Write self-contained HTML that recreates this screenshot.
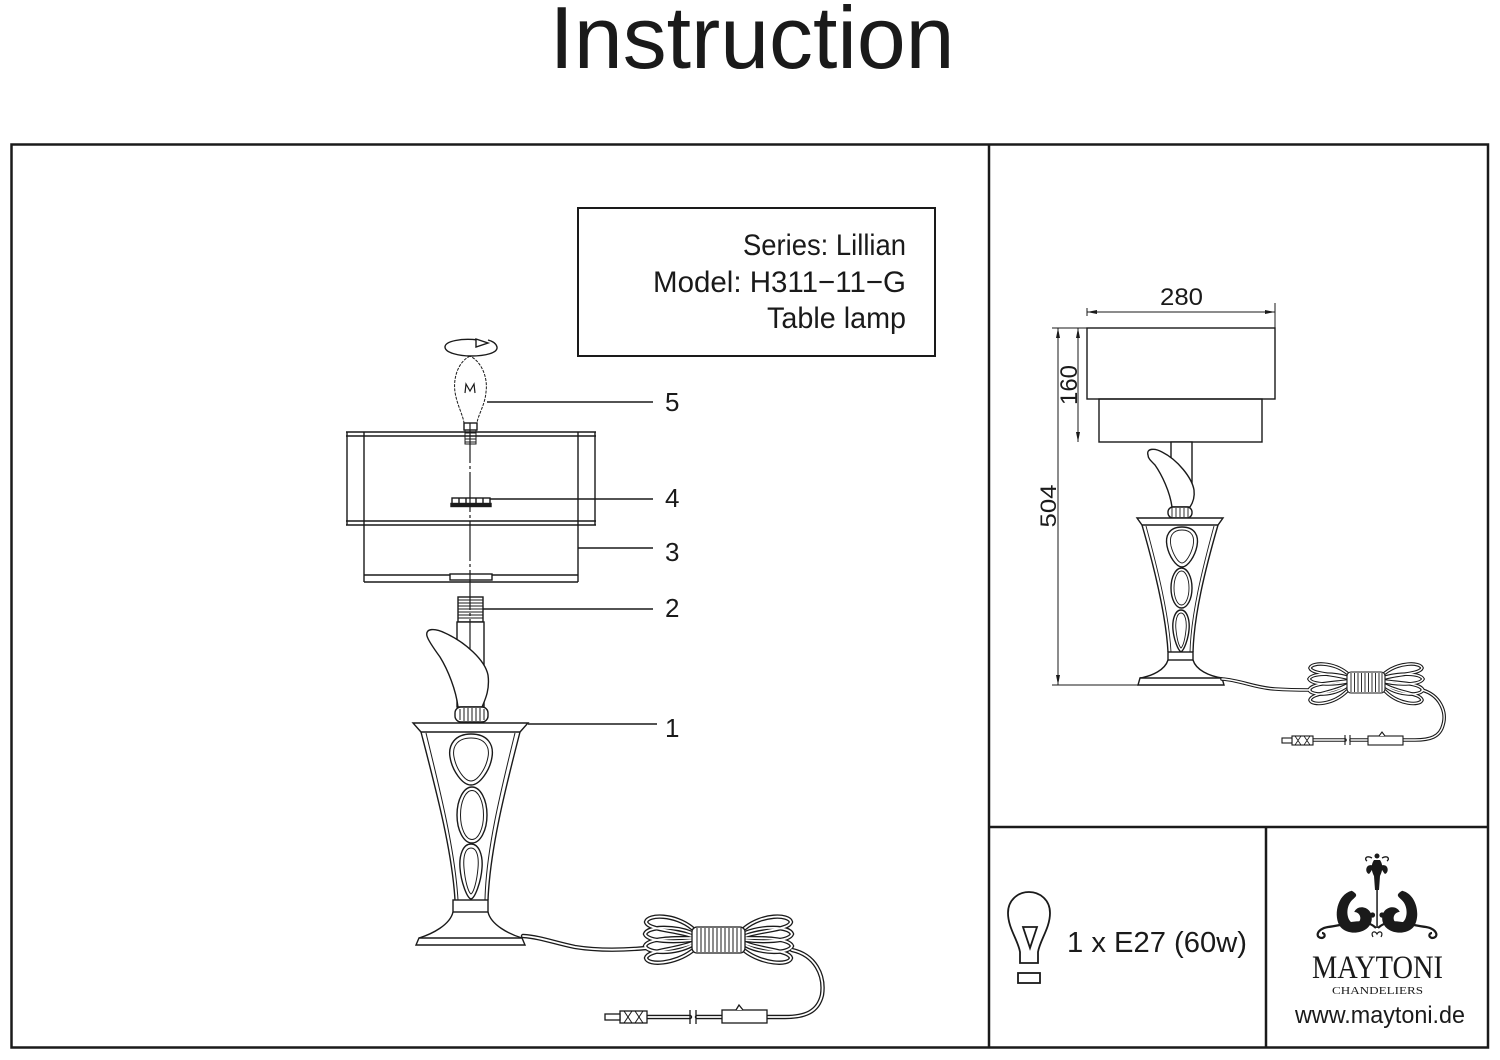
<!DOCTYPE html>
<html><head><meta charset="utf-8"><style>
html,body{margin:0;padding:0;background:#fff;}
svg{display:block;}
text{font-family:"Liberation Sans",Arial,sans-serif;fill:#1a1a1a;}
</style></head><body>
<svg width="1500" height="1060" viewBox="0 0 1500 1060" xmlns="http://www.w3.org/2000/svg">
<rect width="1500" height="1060" fill="#fff"/>
<text x="752" y="68" font-size="88" text-anchor="middle" textLength="405" lengthAdjust="spacingAndGlyphs">Instruction</text>

<!-- frame -->
<g stroke="#1a1a1a" stroke-width="2.5" fill="none">
<rect x="11.5" y="144.5" width="1476.5" height="903"/>
<line x1="989" y1="144" x2="989" y2="1048"/>
<line x1="989" y1="827" x2="1488" y2="827"/>
<line x1="1266" y1="827" x2="1266" y2="1048"/>
</g>

<!-- info box -->
<rect x="578" y="208" width="357" height="148" fill="none" stroke="#1a1a1a" stroke-width="2"/>
<text x="906" y="255" font-size="30" text-anchor="end" textLength="163" lengthAdjust="spacingAndGlyphs">Series: Lillian</text>
<text x="906" y="292" font-size="30" text-anchor="end" textLength="253" lengthAdjust="spacingAndGlyphs">Model: H311−11−G</text>
<text x="906" y="328" font-size="30" text-anchor="end" textLength="139" lengthAdjust="spacingAndGlyphs">Table lamp</text>

<!-- ===== MAIN EXPLODED LAMP ===== -->
<g stroke="#1a1a1a" fill="none" stroke-width="1.4">
<path d="M478,340 C 462,338 445,341 445,347 C 445,353 460,356 471,356 C 485,356 498,353 497,347 C 496,343 492,341 488,340"/>
<polygon points="476,339 488,343 476,347" fill="#fff"/>
<path d="M470,356 C 458,362 453,378 455,392 C 457,405 463,415 464,423 L 477,423 C 478,415 485,405 486,392 C 488,378 482,362 470,356 Z" stroke-width="1" stroke-dasharray="3 1.2"/>
<polyline points="465,393 466,384 470,391 474,384 475,393" stroke-width="1.2"/>
<rect x="464" y="423" width="13" height="7" fill="#fff"/>
<path d="M465,430 L465,444 L476,444 L476,430 M465,433 L476,433 M465,436 L476,436 M465,439 L476,439 M465,442 L476,442" stroke-width="1"/>

<line x1="346" y1="432" x2="596" y2="432"/>
<line x1="346" y1="436" x2="596" y2="436"/>
<line x1="346" y1="521" x2="596" y2="521"/>
<line x1="346" y1="525" x2="596" y2="525"/>
<line x1="347" y1="432" x2="347" y2="525"/>
<line x1="595" y1="432" x2="595" y2="525"/>
<line x1="364" y1="432" x2="364" y2="582"/>
<line x1="578" y1="432" x2="578" y2="582"/>
<line x1="364" y1="575" x2="578" y2="575"/>
<line x1="364" y1="582" x2="578" y2="582"/>
<rect x="450" y="574" width="42" height="6" fill="#fff"/>
<rect x="452" y="498" width="38" height="6" fill="#fff"/>
<line x1="459" y1="498" x2="459" y2="504"/><line x1="466" y1="498" x2="466" y2="504"/><line x1="476" y1="498" x2="476" y2="504"/><line x1="483" y1="498" x2="483" y2="504"/>
<rect x="451" y="503.5" width="40" height="3" fill="#1a1a1a"/>

<rect x="458" y="597" width="25" height="25" fill="#fff"/>
<path d="M458,600 L483,600 M458,603 L483,603 M458,606 L483,606 M458,609 L483,609 M458,612 L483,612 M458,615 L483,615 M458,618 L483,618" stroke-width="1"/>
<rect x="457" y="622" width="27" height="85" fill="#fff"/>

<line x1="470" y1="423" x2="470" y2="688" stroke-width="1.2" stroke-dasharray="40 3 3 3"/>

<path d="M427,636 C 425,628 435,628 445,633 C 465,642 485,660 488,675 C 490,690 485,700 482,707 L 458,707 C 456,690 448,670 440,657 C 432,646 428,640 427,636 Z" fill="#fff"/>
<rect x="455" y="707" width="33" height="15" rx="6" fill="#fff"/>
<path d="M460,709 L460,720 M464,708 L464,721 M468,708 L468,721 M472,708 L472,721 M476,708 L476,721 M480,708 L480,721 M484,709 L484,720" stroke-width="1"/>
<polygon points="413,723 528,723 520,732 421,732" fill="#fff"/>
<path d="M421,732 C 436,790 452,850 455,900"/>
<path d="M426,733 C 440,790 455,850 458,900" stroke-width="1"/>
<path d="M520,732 C 505,790 490,850 488,900"/>
<path d="M515,733 C 501,790 486,850 485,900" stroke-width="1"/>
<path d="M471,734 C 488,734 494,745 492,757 C 490,770 480,785 471,785 C 462,785 452,770 450,757 C 448,745 455,734 471,734 Z"/>
<path d="M471,738 C 485,738 490,747 488,757 C 486,768 478,781 471,781 C 464,781 456,768 454,757 C 452,747 457,738 471,738 Z" stroke-width="1"/>
<ellipse cx="472" cy="815" rx="15" ry="28"/>
<ellipse cx="472" cy="815" rx="11.5" ry="24.5" stroke-width="1"/>
<path d="M471,844 C 479,844 483,855 482,868 C 481,882 475,898 471,899 C 467,898 461,882 460,868 C 459,855 463,844 471,844 Z"/>
<path d="M471,848 C 477,848 479,857 478,868 C 477,880 474,892 471,894 C 468,892 465,880 464,868 C 463,857 465,848 471,848 Z" stroke-width="1"/>
<rect x="453" y="900" width="35" height="12" fill="#fff"/>
<path d="M453,912 C 450,925 432,934 419,938 M488,912 C 491,925 509,934 522,938"/>
<polygon points="419,938 522,938 525,945 416,945" fill="#fff"/>
</g>

<g stroke="#1a1a1a" stroke-width="1.6">
<line x1="487" y1="402" x2="653" y2="402"/>
<line x1="490" y1="499" x2="653" y2="499"/>
<line x1="578" y1="548" x2="653" y2="548"/>
<line x1="483" y1="609" x2="653" y2="609"/>
<line x1="528" y1="724" x2="657" y2="724"/>
</g>
<g font-size="26">
<text x="665" y="411">5</text>
<text x="665" y="507">4</text>
<text x="665" y="561">3</text>
<text x="665" y="617">2</text>
<text x="665" y="737">1</text>
</g>

<g fill="none" stroke-linecap="round">
<g stroke="#1a1a1a" stroke-width="4.4">
<path d="M523,936 C 540,937 555,943 575,947 C 600,951 625,950 646,948"/>
<path d="M692,928 C 675,914 648,914 646,922 C 648,930 675,930 692,936"/>
<path d="M692,933 C 675,926 648,926 645,934 C 648,942 675,942 692,940"/>
<path d="M692,938 C 675,938 648,938 645,946 C 648,954 675,954 692,945"/>
<path d="M692,943 C 675,950 648,950 646,958 C 648,966 675,964 692,951"/>
<path d="M745,928 C 762,914 789,914 791,922 C 789,930 762,930 745,936"/>
<path d="M745,933 C 762,926 789,926 792,934 C 789,942 762,942 745,940"/>
<path d="M745,938 C 762,938 789,938 792,946 C 789,954 762,954 745,945"/>
<path d="M745,943 C 762,950 789,950 791,958 C 789,966 762,964 745,951"/>
<path d="M792,950 C 815,955 825,975 822,995 C 818,1012 805,1017 785,1017 L 767,1017"/>
<path d="M722,1017 L 697,1017 M690,1017 L 647,1017"/>
</g>
<g stroke="#fff" stroke-width="1.8">
<path d="M523,936 C 540,937 555,943 575,947 C 600,951 625,950 646,948"/>
<path d="M692,928 C 675,914 648,914 646,922 C 648,930 675,930 692,936"/>
<path d="M692,933 C 675,926 648,926 645,934 C 648,942 675,942 692,940"/>
<path d="M692,938 C 675,938 648,938 645,946 C 648,954 675,954 692,945"/>
<path d="M692,943 C 675,950 648,950 646,958 C 648,966 675,964 692,951"/>
<path d="M745,928 C 762,914 789,914 791,922 C 789,930 762,930 745,936"/>
<path d="M745,933 C 762,926 789,926 792,934 C 789,942 762,942 745,940"/>
<path d="M745,938 C 762,938 789,938 792,946 C 789,954 762,954 745,945"/>
<path d="M745,943 C 762,950 789,950 791,958 C 789,966 762,964 745,951"/>
<path d="M792,950 C 815,955 825,975 822,995 C 818,1012 805,1017 785,1017 L 767,1017"/>
<path d="M722,1017 L 697,1017 M690,1017 L 647,1017"/>
</g>
</g>
<g stroke="#1a1a1a" stroke-width="1.3" fill="#fff">
<rect x="692" y="927" width="53" height="26" rx="5"/>
<path d="M697,928 V952 M701,928 V952 M705,928 V952 M709,928 V952 M713,928 V952 M717,928 V952 M721,928 V952 M725,928 V952 M729,928 V952 M733,928 V952 M737,928 V952 M741,928 V952" stroke-width="1" fill="none"/>
<rect x="722" y="1010" width="45" height="13"/>
<path d="M736,1010 L739,1005 L743,1010" fill="#fff"/>
<line x1="690" y1="1010" x2="690" y2="1024"/>
<line x1="696" y1="1010" x2="696" y2="1024"/>
<rect x="620" y="1011" width="27" height="12"/>
<path d="M624,1011 L632,1023 M632,1011 L624,1023 M635,1011 L643,1023 M643,1011 L635,1023" fill="none" stroke-width="1"/>
<rect x="605" y="1014" width="15" height="6"/>
</g>

<!-- ===== RIGHT DIMENSION DIAGRAM ===== -->
<g stroke="#1a1a1a" fill="none" stroke-width="1.4">
<rect x="1087" y="328" width="188" height="71"/>
<rect x="1099" y="399" width="163" height="43"/>
<rect x="1171" y="442" width="21" height="45" fill="#fff"/>
<path d="M1148,455 C 1146,448 1155,448 1162,452 C 1178,460 1192,478 1194,490 C 1195,498 1192,504 1190,507 L 1172,507 C 1170,492 1162,475 1155,465 C 1150,460 1148,458 1148,455 Z" fill="#fff"/>
<rect x="1168" y="507" width="24" height="11" rx="5" fill="#fff"/>
<path d="M1172,508 V517 M1176,508 V517 M1180,508 V517 M1184,508 V517 M1188,508 V517" stroke-width="0.9"/>
<polygon points="1137,518 1223,518 1218,525 1142,525" fill="#fff"/>
<path d="M1142,525 C 1155,570 1166,615 1168,652"/>
<path d="M1146,526 C 1158,570 1169,615 1171,652" stroke-width="0.9"/>
<path d="M1218,525 C 1205,570 1194,615 1193,652"/>
<path d="M1214,526 C 1202,570 1191,615 1190,652" stroke-width="0.9"/>
<path d="M1182,527 C 1195,527 1199,536 1197,546 C 1195,556 1188,567 1182,567 C 1176,567 1169,556 1167,546 C 1165,536 1169,527 1182,527 Z"/>
<path d="M1182,530 C 1192,530 1195,537 1193,546 C 1191,554 1186,563 1182,563 C 1178,563 1173,554 1171,546 C 1169,537 1172,530 1182,530 Z" stroke-width="0.9"/>
<ellipse cx="1181.5" cy="588" rx="10.5" ry="20"/>
<ellipse cx="1181.5" cy="588" rx="7.5" ry="17" stroke-width="0.9"/>
<path d="M1181,610 C 1187,610 1190,620 1189,630 C 1188,640 1184,650 1181,652 C 1178,650 1174,640 1173,630 C 1172,620 1175,610 1181,610 Z"/>
<path d="M1181,613 C 1185,613 1187,621 1186,630 C 1185,639 1183,646 1181,648 C 1179,646 1177,639 1176,630 C 1175,621 1177,613 1181,613 Z" stroke-width="0.9"/>
<rect x="1168" y="652" width="25" height="8" fill="#fff"/>
<path d="M1168,660 C 1165,670 1152,676 1140,678 M1193,660 C 1196,670 1209,676 1222,678"/>
<polygon points="1140,678 1222,678 1224,685 1138,685" fill="#fff"/>
</g>
<g stroke="#1a1a1a" stroke-width="1" fill="none">
<line x1="1087" y1="312" x2="1275" y2="312"/>
<line x1="1275" y1="303" x2="1275" y2="328"/>
<line x1="1087" y1="308" x2="1087" y2="316"/>
<line x1="1052" y1="328" x2="1087" y2="328"/>
<line x1="1078" y1="328" x2="1078" y2="442"/>
<line x1="1058" y1="328" x2="1058" y2="685"/>
<line x1="1052" y1="685" x2="1140" y2="685"/>
</g>
<g fill="#1a1a1a">
<polygon points="1087,312 1097,310 1097,314"/>
<polygon points="1275,312 1265,310 1265,314"/>
<polygon points="1078,328 1076,338 1080,338"/>
<polygon points="1078,442 1076,432 1080,432"/>
<polygon points="1058,328 1056,338 1060,338"/>
<polygon points="1058,685 1056,675 1060,675"/>
</g>
<text x="1181.5" y="305" font-size="24" text-anchor="middle" textLength="43" lengthAdjust="spacingAndGlyphs">280</text>
<text transform="translate(1077,385) rotate(-90)" font-size="24" text-anchor="middle" textLength="40" lengthAdjust="spacingAndGlyphs">160</text>
<text transform="translate(1056,506) rotate(-90)" font-size="22" text-anchor="middle" textLength="43" lengthAdjust="spacingAndGlyphs">504</text>

<g fill="none" stroke-linecap="round">
<g stroke="#1a1a1a" stroke-width="3.6">
<path d="M1222,679 C 1240,680 1255,688 1275,689 C 1290,690 1300,690 1310,690"/>
<path d="M1347,673 C 1333,662 1312,662 1310,668 C 1312,674 1333,674 1347,678"/>
<path d="M1347,677 C 1333,673 1312,673 1309,679 C 1312,685 1333,685 1347,682"/>
<path d="M1347,681 C 1333,683 1312,683 1309,690 C 1312,696 1333,696 1347,686"/>
<path d="M1347,685 C 1333,693 1312,693 1310,700 C 1312,706 1333,705 1347,691"/>
<path d="M1385,673 C 1399,662 1420,662 1422,668 C 1420,674 1399,674 1385,678"/>
<path d="M1385,677 C 1399,673 1420,673 1423,679 C 1420,685 1399,685 1385,682"/>
<path d="M1385,681 C 1399,683 1420,683 1423,690 C 1420,696 1399,696 1385,686"/>
<path d="M1385,685 C 1399,693 1420,693 1422,700 C 1420,706 1399,705 1385,691"/>
<path d="M1422,690 C 1440,695 1447,712 1443,725 C 1440,737 1430,740 1415,740 L 1403,740"/>
<path d="M1368,740 L 1351,740 M1345,740 L 1313,740"/>
</g>
<g stroke="#fff" stroke-width="1.4">
<path d="M1222,679 C 1240,680 1255,688 1275,689 C 1290,690 1300,690 1310,690"/>
<path d="M1347,673 C 1333,662 1312,662 1310,668 C 1312,674 1333,674 1347,678"/>
<path d="M1347,677 C 1333,673 1312,673 1309,679 C 1312,685 1333,685 1347,682"/>
<path d="M1347,681 C 1333,683 1312,683 1309,690 C 1312,696 1333,696 1347,686"/>
<path d="M1347,685 C 1333,693 1312,693 1310,700 C 1312,706 1333,705 1347,691"/>
<path d="M1385,673 C 1399,662 1420,662 1422,668 C 1420,674 1399,674 1385,678"/>
<path d="M1385,677 C 1399,673 1420,673 1423,679 C 1420,685 1399,685 1385,682"/>
<path d="M1385,681 C 1399,683 1420,683 1423,690 C 1420,696 1399,696 1385,686"/>
<path d="M1385,685 C 1399,693 1420,693 1422,700 C 1420,706 1399,705 1385,691"/>
<path d="M1422,690 C 1440,695 1447,712 1443,725 C 1440,737 1430,740 1415,740 L 1403,740"/>
<path d="M1368,740 L 1351,740 M1345,740 L 1313,740"/>
</g>
</g>
<g stroke="#1a1a1a" stroke-width="1.1" fill="#fff">
<rect x="1347" y="672" width="38" height="21" rx="4"/>
<path d="M1351,673 V692 M1354.5,673 V692 M1358,673 V692 M1361.5,673 V692 M1365,673 V692 M1368.5,673 V692 M1372,673 V692 M1375.5,673 V692 M1379,673 V692 M1382,673 V692" stroke-width="0.9" fill="none"/>
<rect x="1368" y="736" width="35" height="9"/>
<path d="M1379,736 L1382,732 L1385,736"/>
<line x1="1345" y1="735" x2="1345" y2="745"/>
<line x1="1350" y1="735" x2="1350" y2="745"/>
<rect x="1292" y="736" width="21" height="9"/>
<path d="M1295,736 L1301,745 M1301,736 L1295,745 M1304,736 L1310,745 M1310,736 L1304,745" fill="none" stroke-width="0.8"/>
<rect x="1282" y="738" width="10" height="5"/>
</g>

<!-- ===== BULB SPEC ===== -->
<g stroke="#1a1a1a" stroke-width="1.8" fill="none">
<path d="M1020,963 L1020,952 C 1018,940 1008,928 1008,913 C 1008,900 1018,892 1029,892 C 1040,892 1050,900 1050,913 C 1050,928 1040,940 1038,952 L 1038,963 Z"/>
<rect x="1018" y="973" width="22" height="10"/>
<polygon points="1023,927 1037,927 1030,948"/>
</g>
<text x="1067" y="952" font-size="29" textLength="180" lengthAdjust="spacingAndGlyphs">1 x E27 (60w)</text>

<!-- ===== LOGO ===== -->
<g fill="#1a1a1a" stroke="none">
<circle cx="1377" cy="856" r="2.5"/>
<path d="M1374,860 C 1370,866 1372,872 1374,876 L 1375,890 L 1379,890 L 1380,876 C 1382,872 1384,866 1380,860 Z"/>
<path d="M1374,866 C 1366,862 1364,872 1369,874 C 1371,872 1372,869 1374,868 Z"/>
<path d="M1380,866 C 1388,862 1390,872 1385,874 C 1383,872 1382,869 1380,868 Z"/>
<path d="M1372,858 C 1366,855 1364,859 1367,861 M1382,858 C 1388,855 1390,859 1387,861" fill="none" stroke="#1a1a1a" stroke-width="1.4"/>
<rect x="1376.3" y="888" width="1.5" height="40"/>
<circle cx="1372.5" cy="915" r="2.6"/>
<circle cx="1382" cy="915" r="2.6"/>
<g transform="translate(1353,912) scale(1.25) translate(-1353,-912)">
<path d="M1352,895 C 1340,898 1337,916 1343,924 C 1350,932 1367,929 1368,918 C 1369,908 1357,905 1354,912 C 1359,912 1361,919 1356,921 C 1349,923 1346,911 1351,904 C 1354,900 1359,899 1352,895 Z"/>
</g>
<g transform="translate(1401,912) scale(1.25) translate(-1401,-912)">
<path d="M1402,895 C 1414,898 1417,916 1411,924 C 1404,932 1387,929 1386,918 C 1385,908 1397,905 1400,912 C 1395,912 1393,919 1398,921 C 1405,923 1408,911 1403,904 C 1400,900 1395,899 1402,895 Z"/>
</g>
</g>
<g fill="none" stroke="#1a1a1a" stroke-width="2.2">
<path d="M1376,928 C 1365,917 1345,925 1328,927 C 1316,929 1315,938 1322,938 C 1326,937 1325,933 1322,933"/>
<path d="M1378,928 C 1389,917 1409,925 1426,927 C 1438,929 1439,938 1432,938 C 1428,937 1429,933 1432,933"/>
<path d="M1373,937 C 1370,932 1375,930 1377,934 C 1379,930 1384,932 1381,937" stroke-width="1.2"/>
</g>
<text x="1312" y="978" font-size="33" textLength="131" lengthAdjust="spacingAndGlyphs" style="font-family:'Liberation Serif',serif">MAYTONI</text>
<text x="1332" y="994" font-size="11" textLength="91" lengthAdjust="spacingAndGlyphs" style="font-family:'Liberation Serif',serif">CHANDELIERS</text>
<text x="1295" y="1023" font-size="24" textLength="170" lengthAdjust="spacingAndGlyphs">www.maytoni.de</text>
</svg>
</body></html>
